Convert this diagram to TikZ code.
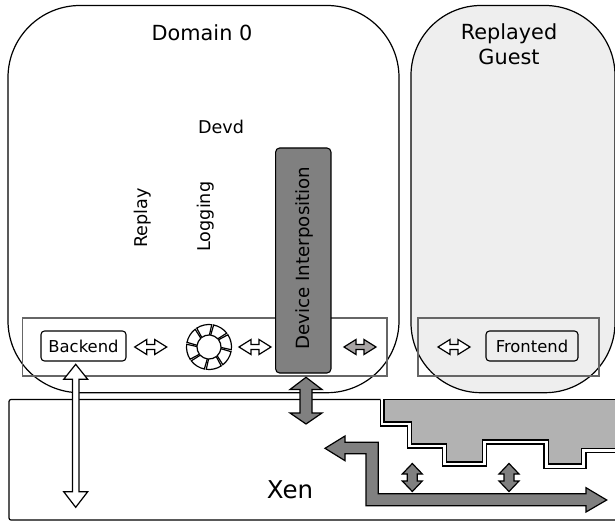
\documentclass[tikz,border=0pt]{standalone}
\usepackage{fontspec}
\setmainfont{DejaVu Sans}
\definecolor{guestfill}{HTML}{EEEEEE}
\definecolor{devfill}{HTML}{808080}
\definecolor{pagefill}{HTML}{B2B2B2}
\definecolor{boxline}{HTML}{666666}
\definecolor{thirdfill}{HTML}{A8A4A4}
\tikzset{
 x=1pt,y=-1pt,
 titlelbl/.style={inner sep=0pt,font=\fontsize{20.8}{25}\selectfont,text=black},
 lbl/.style={inner sep=0pt,font=\fontsize{17.6}{21}\selectfont,text=black},
 smalllbl/.style={inner sep=0pt,font=\fontsize{16.4}{20}\selectfont,text=black},
 domainbox/.style={draw=black,line width=1.2pt},
 barbox/.style={draw=boxline,line width=1.2pt},
 devbox/.style={draw=black,line width=1.1pt,rounded corners=3.5pt,minimum height=30pt,inner sep=0pt},
 arrowshape/.style={draw=black,line width=1.2pt,line join=miter},
}
\newcommand{\hdbl}[3]{% cx, cy, fill
 \draw[arrowshape,fill=#3,shift={(#1,#2)}] (-16,0) -- (-4,-7.5) -- (-4,-2.5) -- (4,-2.5) -- (4,-7.5) -- (16,0) -- (4,7.5) -- (4,2.5) -- (-4,2.5) -- (-4,7.5) -- cycle;}
\newcommand{\vsmall}[2]{% cx, cy
 \draw[arrowshape,fill=devfill,shift={(#1,#2)}] (0,-14) -- (10,-3.5) -- (5,-3.5) -- (5,3.5) -- (10,3.5) -- (0,14) -- (-10,3.5) -- (-5,3.5) -- (-5,-3.5) -- (-10,-3.5) -- cycle;}
\begin{document}
\begin{tikzpicture}
\useasboundingbox (0,0) rectangle (615,521);
\fill[white] (0,0) rectangle (615,521);
\begin{scope}
\clip (0,0) rectangle (615,521);
\draw[domainbox,fill=guestfill,rounded corners=70pt] (411,5.5) rectangle (615,392.7);
\end{scope}
\draw[domainbox,rounded corners=72pt] (8,5.5) rectangle (399,392.7);
\draw[barbox] (22.5,318) rectangle (387,376);
\draw[barbox] (418,318) rectangle (599,376);
% Xen outline
\draw[black,line width=1.2pt,rounded corners=2pt] (380.5,399.5) -- (9,399.5) -- (9,520) -- (615,520);
\draw[black,line width=1.2pt] (380.5,399.5) -- (380.5,426) -- (407.5,426) -- (407.5,448) -- (442.7,448) -- (442.7,466) -- (486.7,466) -- (486.7,444) -- (544,444) -- (544,468.7) -- (586,468.7) -- (586,452.7) -- (615,452.7);
% stepped page area
\draw[black,line width=1.2pt,fill=pagefill] (615,399.5) -- (384,399.5) -- (384,422) -- (411.7,422) -- (411.7,444) -- (446.7,444) -- (446.7,462) -- (482.7,462) -- (482.7,440) -- (548.3,440) -- (548.3,464) -- (581.7,464) -- (581.7,448.7) -- (615,448.7);
% Backend / frontend
\node[devbox,fill=white,minimum width=85pt] (backend) at (83.5,346) {};
\node[smalllbl] (backendtxt) at (83.5,346) {Backend};
\node[devbox,fill=guestfill,minimum width=92pt] (frontend) at (532,346) {};
\node[smalllbl] (frontendtxt) at (532,346) {Frontend};
% Device interposition
\node[draw=black,fill=devfill,line width=1.1pt,rounded corners=4pt,minimum width=55.3pt,minimum height=225pt,inner sep=0pt] (devint) at (303.3,260.5) {};
\node[lbl,rotate=90,font=\fontsize{18.2}{22}\selectfont] (devinttxt) at (304,258) {Device Interposition};
% Labels
\node[titlelbl] (dom) at (202,33) {Domain 0};
\node[titlelbl,align=center] (guest) at (509,44.5) {Replayed\\Guest};
\node[lbl] (devd) at (221,127) {Devd};
\node[lbl,rotate=90] (replay) at (142.5,218) {Replay};
\node[lbl,rotate=90] (logging) at (205.5,216.7) {Logging};
\node[inner sep=0pt,font=\fontsize{24.5}{28}\selectfont] (xen) at (290,490) {Xen};
% H arrows
\hdbl{150.7}{347}{white}
\hdbl{255}{347}{white}
\hdbl{360}{347}{thirdfill}
\hdbl{454}{347}{white}
% ring
\foreach \a in {0,45,...,315}{
 \draw[black,line width=1.2pt,fill=white,shift={(209,347)}]
  (\a+12:22.5) arc[start angle=\a+12,end angle=\a+52,radius=22.5]
  -- (\a+47:12) arc[start angle=\a+47,end angle=\a+8,radius=12] -- cycle;
}
% white vertical arrow
\draw[arrowshape,fill=white] (75.7,364.3) -- (87.7,379.3) -- (79,379.3) -- (79,491.7) -- (87.7,491.7) -- (75.7,507.3) -- (63.7,491.7) -- (72.4,491.7) -- (72.4,379.3) -- (63.7,379.3) -- cycle;
% grey double arrow
\draw[arrowshape,fill=devfill] (306,377.3) -- (322,389.5) -- (312,389.5) -- (312,413) -- (322,413) -- (306,424) -- (290,413) -- (300,413) -- (300,389.5) -- (290,389.5) -- cycle;
% small vertical arrows
\vsmall{412.3}{477.5}
\vsmall{509}{477.5}
% bent arrow
\draw[arrowshape,fill=devfill] (325,448.3) -- (345,436) -- (345,442.3) -- (378.3,442.3) -- (378.3,493.7) -- (586,493.7) -- (586,487.7) -- (606.7,500) -- (586,512) -- (586,505.7) -- (366,505.7) -- (366,453.7) -- (345,453.7) -- (345,460.7) -- cycle;
\end{tikzpicture}
\end{document}
